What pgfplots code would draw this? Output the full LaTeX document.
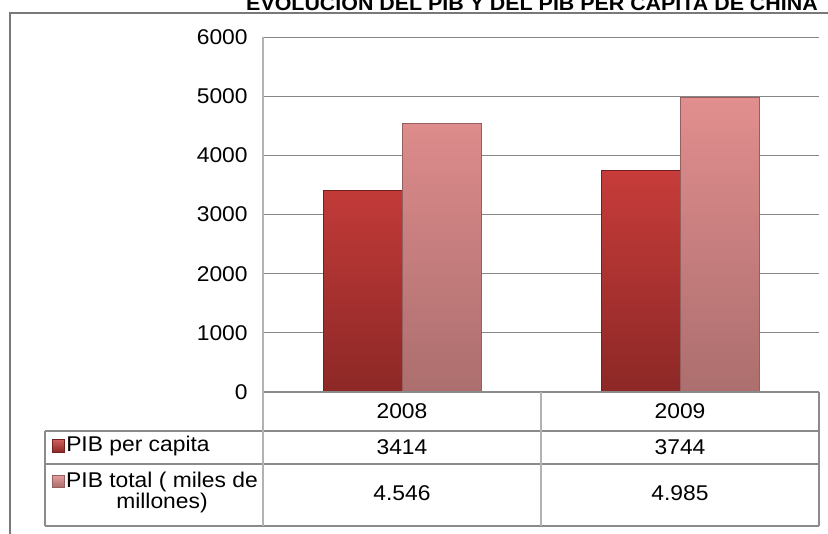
\documentclass[border=0pt]{standalone}
\usepackage{fontspec}
\setmainfont{Liberation Sans}[FakeStretch=1.07]
\usepackage{pgfplots}
\pgfplotsset{compat=1.18}
\definecolor{darkA}{RGB}{199,60,58}
\definecolor{darkB}{RGB}{140,40,38}
\definecolor{darkE}{RGB}{115,32,30}
\definecolor{lightA}{RGB}{226,142,142}
\definecolor{lightB}{RGB}{172,110,110}
\definecolor{lightE}{RGB}{150,95,95}
\definecolor{gridc}{RGB}{134,134,134}
\definecolor{tabc}{RGB}{138,138,138}
\definecolor{vc}{RGB}{178,178,178}
\begin{document}
\begin{tikzpicture}
\begin{axis}[
  at={(197.25pt,-294pt)}, anchor=south west,
  scale only axis, width=417pt, height=266.25pt,
  xmin=-0.5, xmax=1.5, ymin=0, ymax=6000,
  hide x axis,
  axis y line=left, axis line style={-, draw=vc, line width=0.75pt},
  ytick={0,1000,2000,3000,4000,5000,6000},
  ymajorgrids, grid style={draw=gridc, line width=0.75pt},
  major tick length=0pt,
  scaled y ticks=false,
  /pgf/number format/1000 sep={},
  /pgf/number format/assume math mode=true,
  yticklabel style={font=\fontsize{16}{16}\selectfont, anchor=east, xshift=-8pt},
  ybar=0pt, bar width=59.25pt,
  clip=false,
]
\addplot[draw=darkE, line width=0.5pt, shading=axis, top color=darkA, bottom color=darkB] coordinates {(0,3414) (1,3744)};
\addplot[draw=lightE, line width=0.5pt, shading=axis, top color=lightA, bottom color=lightB] coordinates {(0,4546) (1,4985)};
\end{axis}
\begin{scope}[x=0.75pt,y=-0.75pt]
% outer frame
\draw[draw=gray!95!black, line width=1.5pt] (10,540) -- (10,13) -- (840,13);
% title
\node[anchor=base, inner sep=0pt, font=\bfseries\fontsize{15}{15}\selectfont] at (532,10) {EVOLUCIÓN DEL PIB Y DEL PIB PER CÁPITA DE CHINA};
% table lines
\draw[tabc, line width=0.9pt] (263,392) -- (819,392);
\draw[tabc, line width=0.9pt] (45,431) -- (819,431);
\draw[tabc, line width=0.9pt] (45,464) -- (819,464);
\draw[tabc, line width=0.9pt] (45,526) -- (819,526);
\draw[tabc, line width=0.9pt] (45,431) -- (45,526);
\draw[vc, line width=1pt] (263,37) -- (263,526);
\draw[vc, line width=1.2pt] (541,392) -- (541,526);
\draw[tabc, line width=0.9pt] (819,392) -- (819,526);
% table text
\begin{scope}[every node/.style={font=\fontsize{16}{16}\selectfont, inner sep=0pt}]
\node at (402,411) {2008};
\node at (680,411) {2009};
\node at (402,447) {3414};
\node at (680,447) {3744};
\node at (402,493) {4.546};
\node at (680,493) {4.985};
\node[anchor=west] at (66,446) {PIB per capita};
\node[align=center, font=\fontsize{16}{15.75}\selectfont] at (162,492) {PIB total ( miles de\\millones)};
\end{scope}
% legend keys
\shade[top color=darkA!80!white, bottom color=darkB, draw=darkE, line width=0.3pt] (52,439) rectangle (64,452);
\shade[top color=lightA!85!white, bottom color=lightB, draw=lightE, line width=0.3pt] (52,475) rectangle (64,487);
\end{scope}
\pgfresetboundingbox
\useasboundingbox (0pt,0pt) rectangle (621pt,-399.75pt);
\end{tikzpicture}
\end{document}
